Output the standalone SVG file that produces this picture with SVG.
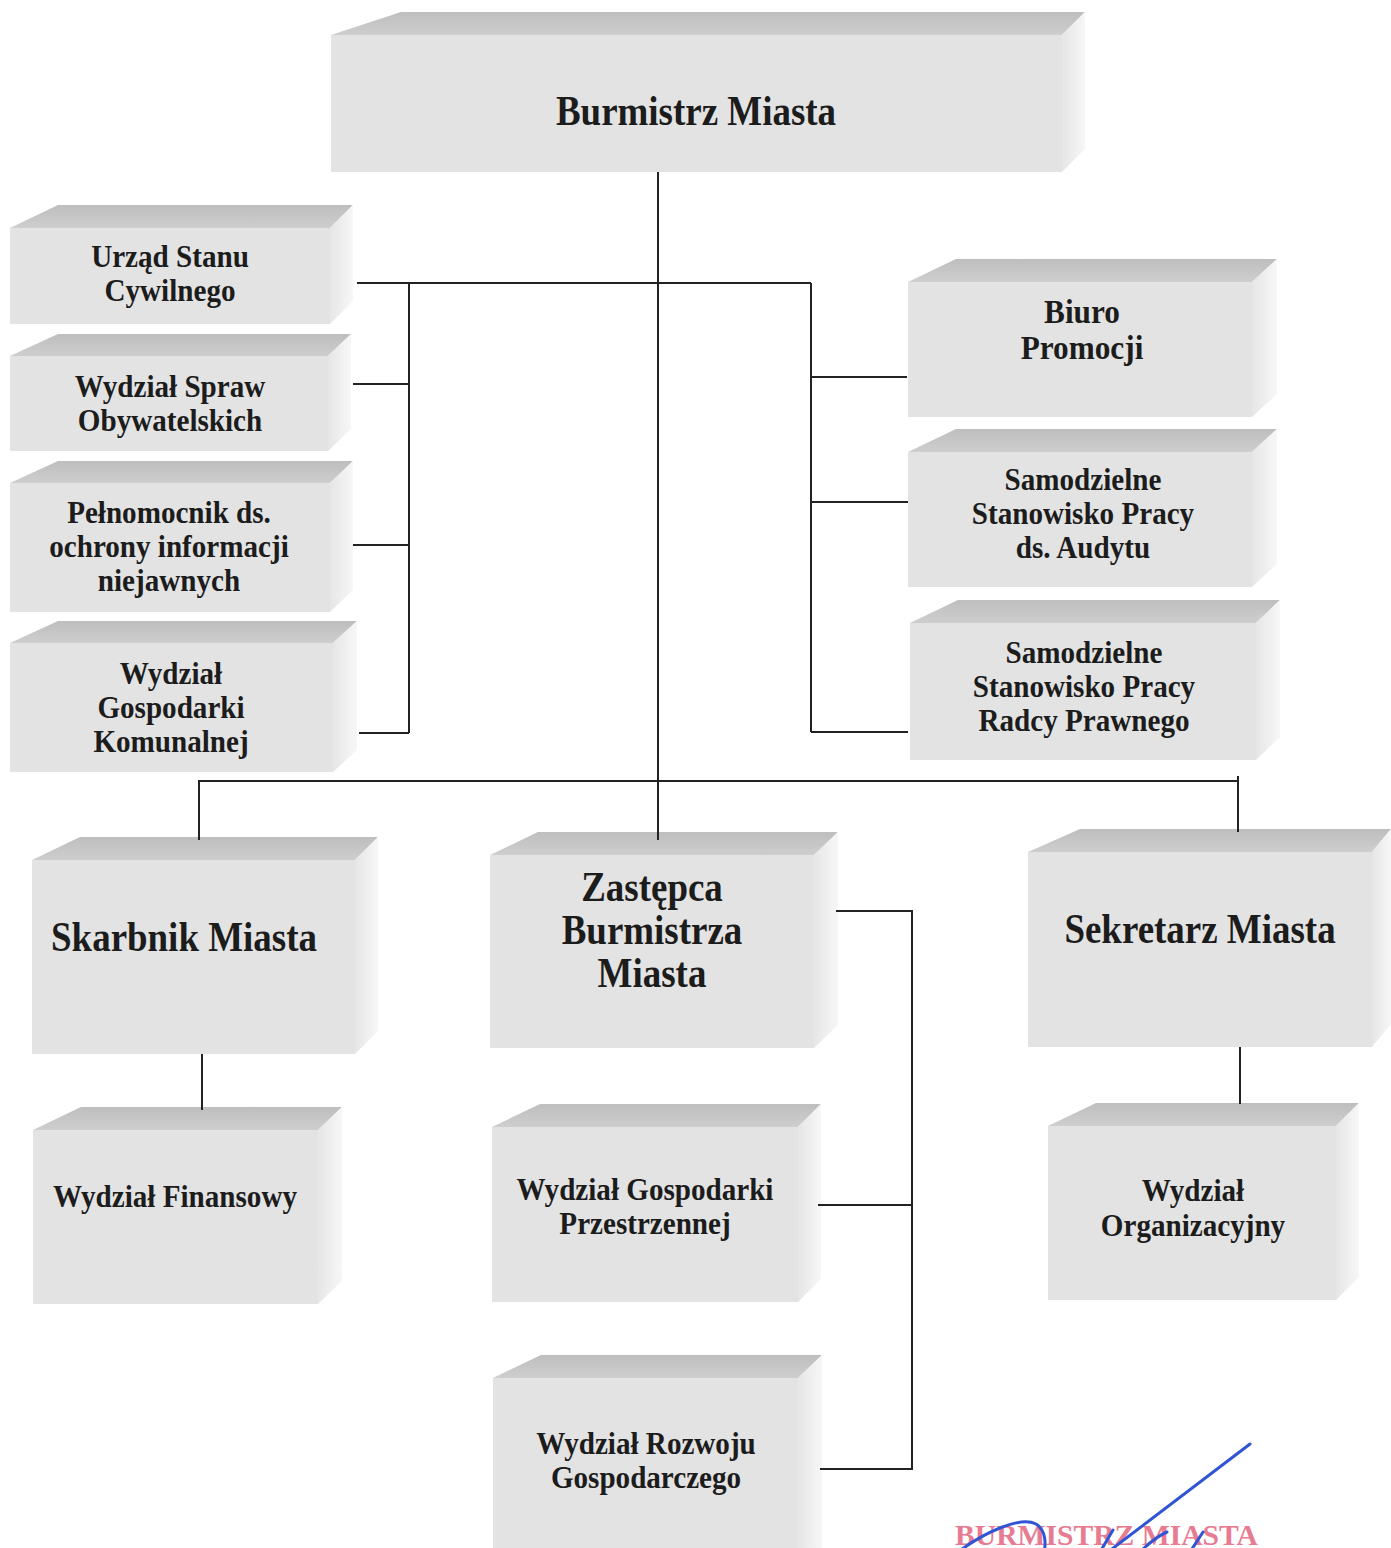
<svg xmlns="http://www.w3.org/2000/svg" width="1391" height="1548" viewBox="0 0 1391 1548">
<defs>
<linearGradient id="gTop" x1="0" y1="0" x2="0" y2="1">
<stop offset="0" stop-color="#bebebe"/><stop offset="1" stop-color="#cecece"/>
</linearGradient>
<linearGradient id="gSide" x1="0" y1="0" x2="1" y2="0">
<stop offset="0" stop-color="#e6e6e6"/><stop offset="1" stop-color="#f7f7f7"/>
</linearGradient>
<style>
.front{fill:#e3e3e3}
.top{fill:url(#gTop)}
.side{fill:url(#gSide)}
.t{font-family:"Liberation Serif","Times New Roman",serif;font-weight:bold;fill:#1c1c1c;text-anchor:middle}
.s{font-size:32px}
.m{font-size:34px}
.l{font-size:42px}
.c{fill:none;stroke:#222;stroke-width:2}
.stamp{font-family:"Liberation Serif",serif;font-weight:bold;fill:#e0506e;opacity:0.75;font-size:30px}
.sig{fill:none;stroke:#2f55d4;stroke-width:3;stroke-linecap:round}
</style>
</defs>
<rect width="1391" height="1548" fill="#ffffff"/>

<g id="burmistrz">
<rect class="front" x="331" y="35" width="731" height="137"/>
<polygon class="top" points="331,35 401,12 1085,12 1062,35"/>
<polygon class="side" points="1062,35 1085,12 1085,149 1062,172"/>
<text class="t l" transform="translate(696,0) scale(0.88,1)" x="0" y="125">Burmistrz Miasta</text>
</g>

<g id="usc">
<rect class="front" x="10" y="228" width="320" height="96"/>
<polygon class="top" points="10,228 58,205 353,205 330,228"/>
<polygon class="side" points="330,228 353,205 353,301 330,324"/>
<text class="t s" transform="translate(170,0) scale(0.91,1)"><tspan x="0" y="267">Urząd Stanu</tspan><tspan x="0" y="301">Cywilnego</tspan></text>
</g>

<g id="wso">
<rect class="front" x="10" y="356" width="318" height="95"/>
<polygon class="top" points="10,356 58,334 351,334 328,356"/>
<polygon class="side" points="328,356 351,334 351,429 328,451"/>
<text class="t s" transform="translate(170,0) scale(0.91,1)"><tspan x="0" y="397">Wydział Spraw</tspan><tspan x="0" y="431">Obywatelskich</tspan></text>
</g>

<g id="pelnomocnik">
<rect class="front" x="10" y="483" width="320" height="129"/>
<polygon class="top" points="10,483 58,461 353,461 330,483"/>
<polygon class="side" points="330,483 353,461 353,590 330,612"/>
<text class="t s" transform="translate(169,0) scale(0.91,1)"><tspan x="0" y="523">Pełnomocnik ds.</tspan><tspan x="0" y="557">ochrony informacji</tspan><tspan x="0" y="591">niejawnych</tspan></text>
</g>

<g id="wgk">
<rect class="front" x="10" y="643" width="323" height="129"/>
<polygon class="top" points="10,643 58,621 357,621 333,643"/>
<polygon class="side" points="333,643 357,621 357,750 333,772"/>
<text class="t s" transform="translate(171,0) scale(0.91,1)"><tspan x="0" y="684">Wydział</tspan><tspan x="0" y="718">Gospodarki</tspan><tspan x="0" y="752">Komunalnej</tspan></text>
</g>

<g id="biuro">
<rect class="front" x="908" y="282" width="344" height="135"/>
<polygon class="top" points="908,282 956,259 1277,259 1252,282"/>
<polygon class="side" points="1252,282 1277,259 1277,394 1252,417"/>
<text class="t m" transform="translate(1082,0) scale(0.92,1)"><tspan x="0" y="323">Biuro</tspan><tspan x="0" y="359">Promocji</tspan></text>
</g>

<g id="audyt">
<rect class="front" x="908" y="452" width="344" height="135"/>
<polygon class="top" points="908,452 956,429 1277,429 1252,452"/>
<polygon class="side" points="1252,452 1277,429 1277,564 1252,587"/>
<text class="t s" transform="translate(1083,0) scale(0.91,1)"><tspan x="0" y="490">Samodzielne</tspan><tspan x="0" y="524">Stanowisko Pracy</tspan><tspan x="0" y="558">ds. Audytu</tspan></text>
</g>

<g id="radca">
<rect class="front" x="910" y="623" width="346" height="137"/>
<polygon class="top" points="910,623 958,600 1280,600 1256,623"/>
<polygon class="side" points="1256,623 1280,600 1280,737 1256,760"/>
<text class="t s" transform="translate(1084,0) scale(0.91,1)"><tspan x="0" y="663">Samodzielne</tspan><tspan x="0" y="697">Stanowisko Pracy</tspan><tspan x="0" y="731">Radcy Prawnego</tspan></text>
</g>

<g id="skarbnik">
<rect class="front" x="32" y="860" width="323" height="194"/>
<polygon class="top" points="32,860 80,837 378,837 355,860"/>
<polygon class="side" points="355,860 378,837 378,1031 355,1054"/>
<text class="t l" transform="translate(184,0) scale(0.88,1)" x="0" y="951">Skarbnik Miasta</text>
</g>

<g id="zastepca">
<rect class="front" x="490" y="855" width="324" height="193"/>
<polygon class="top" points="490,855 538,832 838,832 814,855"/>
<polygon class="side" points="814,855 838,832 838,1025 814,1048"/>
<text class="t l" transform="translate(652,0) scale(0.88,1)"><tspan x="0" y="901">Zastępca</tspan><tspan x="0" y="944">Burmistrza</tspan><tspan x="0" y="987">Miasta</tspan></text>
</g>

<g id="sekretarz">
<rect class="front" x="1028" y="852" width="344" height="195"/>
<polygon class="top" points="1028,852 1080,829 1391,829 1372,852"/>
<polygon class="side" points="1372,852 1391,829 1391,1024 1372,1047"/>
<text class="t l" transform="translate(1200,0) scale(0.88,1)" x="0" y="943">Sekretarz Miasta</text>
</g>

<g id="finansowy">
<rect class="front" x="33" y="1130" width="285" height="174"/>
<polygon class="top" points="33,1130 81,1107 342,1107 318,1130"/>
<polygon class="side" points="318,1130 342,1107 342,1281 318,1304"/>
<text class="t s" transform="translate(175,0) scale(0.91,1)" x="0" y="1207">Wydział Finansowy</text>
</g>

<g id="przestrzenny">
<rect class="front" x="492" y="1127" width="306" height="175"/>
<polygon class="top" points="492,1127 540,1104 821,1104 798,1127"/>
<polygon class="side" points="798,1127 821,1104 821,1279 798,1302"/>
<text class="t s" transform="translate(645,0) scale(0.91,1)"><tspan x="0" y="1200">Wydział Gospodarki</tspan><tspan x="0" y="1234">Przestrzennej</tspan></text>
</g>

<g id="rozwoj">
<rect class="front" x="493" y="1378" width="305" height="182"/>
<polygon class="top" points="493,1378 541,1355 822,1355 798,1378"/>
<polygon class="side" points="798,1378 822,1355 822,1560 798,1560"/>
<text class="t s" transform="translate(646,0) scale(0.91,1)"><tspan x="0" y="1454">Wydział Rozwoju</tspan><tspan x="0" y="1488">Gospodarczego</tspan></text>
</g>

<g id="organizacyjny">
<rect class="front" x="1048" y="1126" width="288" height="174"/>
<polygon class="top" points="1048,1126 1096,1103 1359,1103 1336,1126"/>
<polygon class="side" points="1336,1126 1359,1103 1359,1277 1336,1300"/>
<text class="t s" transform="translate(1193,0) scale(0.91,1)"><tspan x="0" y="1201">Wydział</tspan><tspan x="0" y="1236">Organizacyjny</tspan></text>
</g>

<g id="connectors">
<path class="c" d="M658,172 V840"/>
<path class="c" d="M357,283 H811"/>
<path class="c" d="M409,283 V733"/>
<path class="c" d="M353,384 H409 M353,545 H409 M359,733 H409"/>
<path class="c" d="M811,283 V732"/>
<path class="c" d="M811,377 H907 M811,502 H908 M811,732 H908"/>
<path class="c" d="M199,840 V781 H1238"/>
<path class="c" d="M1238,776 V832"/>
<path class="c" d="M202,1054 V1110"/>
<path class="c" d="M1240,1047 V1104"/>
<path class="c" d="M836,911 H912 V1469 H820"/>
<path class="c" d="M818,1205 H912"/>
</g>

<g id="stamp">
<text class="stamp" x="955" y="1545" textLength="303" lengthAdjust="spacingAndGlyphs">BURMISTRZ MIASTA</text>
<path class="sig" d="M1250,1444 L1108,1552"/>
<path class="sig" d="M958,1552 C985,1532 1020,1516 1036,1524 C1046,1530 1046,1544 1044,1552"/>
<path class="sig" d="M1100,1552 L1113,1530"/>
<path class="sig" d="M1140,1552 C1150,1542 1160,1535 1167,1532"/>
<path class="sig" d="M1190,1552 L1203,1532"/>
</g>
</svg>
